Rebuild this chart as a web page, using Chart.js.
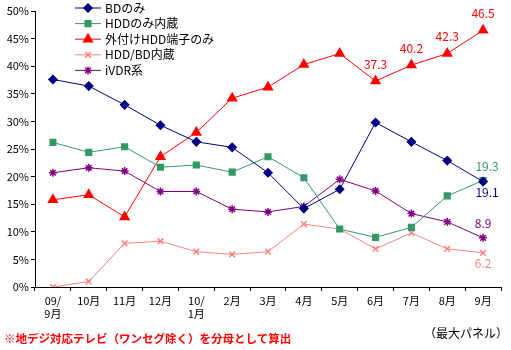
<!DOCTYPE html>
<html><head><meta charset="utf-8">
<script src="https://cdn.jsdelivr.net/npm/chart.js@4/dist/chart.umd.min.js"></script>
<style>
html,body{margin:0;padding:0;background:#fff;}
#wrap{position:relative;width:511px;height:350px;}
#note{position:absolute;left:4px;top:330px;color:#f00;font:bold 11.5px "Noto Sans CJK JP";white-space:nowrap;}
#note2{position:absolute;left:424px;top:324px;color:#000;font:12px "Noto Sans CJK JP";white-space:nowrap;}
</style></head>
<body><div id="wrap"><canvas id="c" width="511" height="350"></canvas>
<div id="note">※地デジ対応テレビ（ワンセグ除く）を分母として算出</div>
<div id="note2">（最大パネル）</div></div>
<script>
const categories = [['09/','9月'],'10月','11月','12月',['10/','1月'],'2月','3月','4月','5月','6月','7月','8月','9月'];
const seriesNames = ['BDのみ','HDDのみ内蔵','外付けHDD端子のみ','HDD/BD内蔵','iVDR系'];
const bdOnly   = [37.6,36.4,33.0,29.3,26.3,25.3,20.7,14.2,17.7,29.8,26.3,22.9,19.1];
const hddOnly  = [26.2,24.4,25.4,21.7,22.1,20.8,23.6,19.8,10.5,9.0,10.8,16.5,19.3];
const extHdd   = [15.8,16.7,12.7,23.6,28.0,34.2,36.2,40.3,42.3,37.3,40.2,42.3,46.5];
const hddBd    = [0.0,1.0,7.9,8.3,6.4,5.9,6.4,11.4,10.5,6.9,9.8,6.9,6.2];
const ivdr     = [20.7,21.6,21.0,17.3,17.3,14.1,13.6,14.6,19.5,17.4,13.3,11.8,8.9];
const yTicks = [0,5,10,15,20,25,30,35,40,45,50];

const FONT = '"Noto Sans CJK JP"';
const colors = ['#000080','#339966','#ff0000','#ff8080','#800080'];
const styles = ['rectRot','rect','triangle','crossRot','star'];
const radii = [4,4,5,4,4];
const values = [bdOnly,hddOnly,extHdd,hddBd,ivdr];

// labels: [datasetIndex, pointIndex, dx, dy]
const dataLabels = [
  [2,9,0,-17],[2,10,0,-17],[2,11,0,-17],[2,12,0,-17],
  [1,12,4,-14],[0,12,4,11],[4,12,0,-14],[3,12,0,11]
];

const labelPlugin = {
  id:'labels',
  afterDatasetsDraw(chart){
    const ctx = chart.ctx;
    ctx.save();
    ctx.font = '12px '+FONT;
    ctx.textAlign='center'; ctx.textBaseline='middle';
    dataLabels.forEach(([d,i,dx,dy])=>{
      const p = chart.getDatasetMeta(d).data[i];
      ctx.fillStyle = colors[d];
      ctx.fillText(chart.data.datasets[d].data[i].toFixed(1), p.x+dx, p.y+dy);
    });
    // legend
    const lx=75, ly=8, sp=15.6;
    chart.data.datasets.forEach((ds,k)=>{
      const y = ly + k*sp;
      ctx.strokeStyle = ds.borderColor; ctx.fillStyle = ds.borderColor; ctx.lineWidth=1;
      ctx.beginPath(); ctx.moveTo(lx,y); ctx.lineTo(lx+26,y); ctx.stroke();
      ctx.lineWidth=1.5;
      Chart.helpers.drawPoint(ctx,{pointStyle:ds.pointStyle,radius:ds.pointRadius,borderWidth:1.5},lx+13,y);
      ctx.fillStyle='#000'; ctx.textAlign='left';
      ctx.fillText(ds.label, lx+30, y);
    });
    ctx.restore();
  }
};

const datasets = values.map((v,k)=>({
  label: seriesNames[k], data: v,
  borderColor: colors[k], backgroundColor: colors[k],
  pointBackgroundColor: colors[k], pointBorderColor: colors[k],
  pointStyle: styles[k], pointRadius: radii[k], pointBorderWidth: 1.5,
  borderWidth: 1, tension: 0, fill:false
}));

new Chart(document.getElementById('c'), {
  type:'line',
  data:{labels:categories, datasets},
  plugins:[labelPlugin],
  options:{
    responsive:false, animation:false,
    layout:{padding:{top:11,right:10,left:0,bottom:0}},
    plugins:{legend:{display:false},tooltip:{enabled:false}},
    scales:{
      x:{
        offset:true,
        grid:{display:true,drawOnChartArea:false,tickLength:4,color:'#000',offset:true},
        border:{color:'#000',width:1},
        ticks:{color:'#000',font:{size:11,family:FONT},padding:3,maxRotation:0,autoSkip:false},
        afterFit(s){s.height=63;}
      },
      y:{
        min:0,max:50,
        afterBuildTicks(s){s.ticks = yTicks.map(v=>({value:v}));},
        ticks:{color:'#000',font:{size:11,family:FONT},padding:2,callback:v=>v+'%'},
        grid:{drawOnChartArea:false,tickLength:4,color:'#000'},
        border:{color:'#000',width:1},
        afterFit(s){s.width=35;}
      }
    }
  }
});
</script></body></html>
